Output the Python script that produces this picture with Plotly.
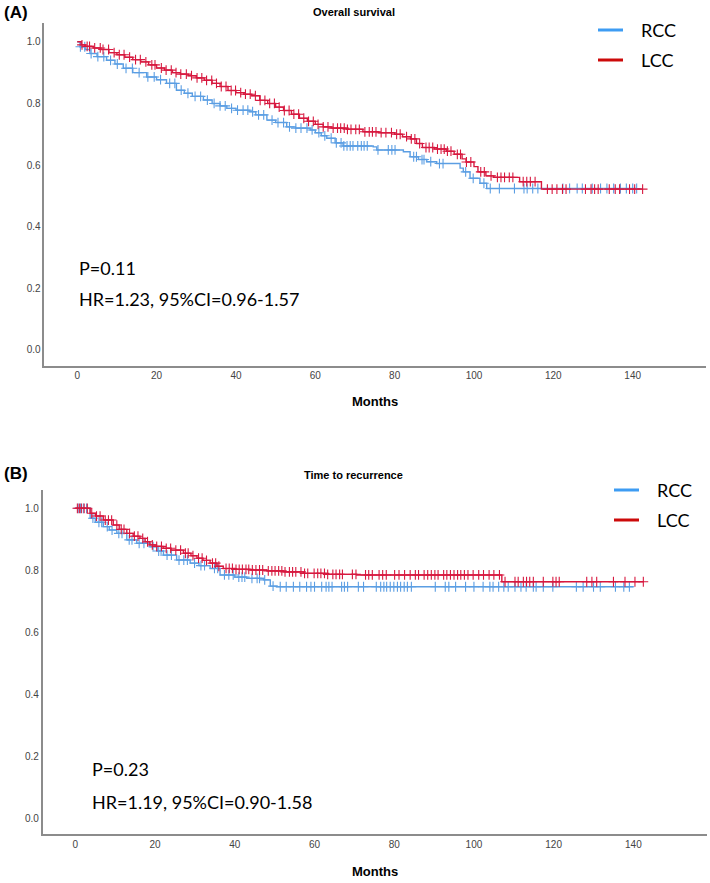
import bisect
import plotly.graph_objects as go

W, H = 710, 883

# ---------------- DATA ----------------
# Panel A: Overall survival (step function points)
os_lcc_t = [0, 1, 2, 4, 6, 8, 10, 12, 14, 16, 18, 20, 22, 24, 26, 28, 30, 32, 34, 36, 38, 40, 42, 44,
            46, 48, 50, 52, 54, 56, 58, 60, 62, 64, 68, 72, 76, 80, 82, 84, 85.5, 87, 90, 93, 95, 97,
            98, 100, 101, 103, 105, 111.5, 117, 142.5]
os_lcc_s = [1.0, 0.99, 0.985, 0.98, 0.975, 0.965, 0.958, 0.95, 0.942, 0.935, 0.925, 0.915, 0.908, 0.9,
            0.895, 0.89, 0.883, 0.875, 0.865, 0.855, 0.842, 0.835, 0.83, 0.825, 0.81, 0.8, 0.788, 0.777,
            0.765, 0.752, 0.742, 0.732, 0.724, 0.72, 0.716, 0.708, 0.705, 0.7, 0.692, 0.685, 0.67, 0.657,
            0.652, 0.645, 0.635, 0.62, 0.61, 0.595, 0.578, 0.565, 0.56, 0.546, 0.522, 0.522]
os_rcc_t = [0, 0.7, 2, 3.2, 5, 7.4, 9.5, 11.6, 14, 17.5, 20, 22.5, 25, 27, 29, 31.8, 34, 36, 37.7, 40,
            43.5, 45, 47.8, 50, 52.8, 55, 58.7, 60, 61.5, 62.9, 65, 67, 74.6, 75.5, 82.2, 83.9, 86, 88.1,
            90.6, 96.5, 97.3, 99, 101.5, 103.2, 141]
os_rcc_s = [1.0, 0.984, 0.975, 0.962, 0.952, 0.94, 0.928, 0.914, 0.9, 0.886, 0.877, 0.865, 0.843, 0.833,
            0.823, 0.811, 0.8, 0.792, 0.784, 0.778, 0.773, 0.763, 0.746, 0.738, 0.724, 0.72, 0.714, 0.705,
            0.695, 0.687, 0.672, 0.662, 0.659, 0.649, 0.643, 0.627, 0.618, 0.611, 0.605, 0.59, 0.578,
            0.557, 0.541, 0.524, 0.524]
os_lcc_cens = [1.2, 2.5, 3.1, 4.4, 5.8, 6.5, 7.9, 9.3, 10.6, 11.8, 13.2, 14.7, 15.9, 17.3, 18.8, 19.6,
               21.2, 22.4, 23.7, 24.9, 26.1, 27.5, 28.8, 30.2, 31.4, 32.6, 33.9, 35.1, 36.3, 37.5, 38.8,
               39.9, 41.2, 42.4, 43.6, 44.9, 46.1, 47.3, 48.5, 49.7, 50.9, 52.2, 53.4, 54.6, 55.8, 57.1,
               58.3, 59.5, 60.7, 62.0, 63.2, 64.5, 65.6, 66.4, 67.3, 68.1, 69.0, 70.2, 71.1, 72.5, 73.6,
               74.4, 75.3, 76.6, 77.8, 79.2, 80.5, 81.4, 83.0, 84.2, 85.1, 86.3, 87.9, 88.7, 89.6, 90.8,
               91.7, 92.5, 93.3, 94.2, 95.8, 96.6, 98.1, 99.2, 101.7, 102.6, 104.3, 105.9, 106.8, 107.7,
               108.9, 109.8, 112.4, 113.3, 114.2, 115.4, 118.5, 119.7, 120.9, 122.3, 123.2, 128.1, 129.5,
               130.4, 131.3, 134.1, 135.6, 136.7, 139.2, 140.5, 142.5]
os_rcc_cens = [0.8, 1.9, 3.5, 5.2, 6.7, 8.4, 10.1, 12.3, 13.9, 15.6, 17.8, 19.4, 21.0, 23.3, 24.6, 26.2,
               27.9, 29.7, 31.1, 32.8, 34.5, 36.0, 37.3, 38.9, 40.4, 41.8, 43.0, 44.2, 45.7, 47.0, 49.1,
               50.6, 52.0, 53.5, 55.1, 56.4, 57.9, 59.2, 60.9, 62.4, 64.0, 65.3, 66.5, 67.2, 68.0, 68.8,
               69.5, 70.7, 71.6, 72.3, 73.1, 75.8, 78.4, 79.3, 80.1, 84.8, 85.5, 86.9, 87.4, 89.1, 91.3,
               92.2, 97.9, 99.8, 102.5, 104.1, 106.4, 110.2, 112.6, 113.4, 114.8, 116.1, 122.4, 124.1,
               126.0, 127.3, 129.8, 131.9, 133.5, 135.2, 136.9, 138.4, 140.0, 141.0]

# Panel B: Time to recurrence
ttr_lcc_t = [0, 2.4, 3.7, 5, 7, 9.5, 11, 12.9, 14.5, 16.2, 17.5, 18.7, 20, 22, 24, 27.1, 29, 30.5, 32,
             33.8, 35.5, 37.1, 40, 43.8, 48, 52.2, 57.2, 63, 70.6, 107, 142.5]
ttr_lcc_s = [1.0, 1.0, 0.984, 0.975, 0.962, 0.946, 0.932, 0.919, 0.91, 0.903, 0.892, 0.882, 0.877, 0.871,
             0.865, 0.855, 0.847, 0.839, 0.832, 0.823, 0.813, 0.806, 0.803, 0.801, 0.798, 0.795, 0.79,
             0.787, 0.785, 0.763, 0.763]
ttr_rcc_t = [0, 2.5, 3.7, 5, 7, 8.5, 10.4, 12.9, 15.4, 18.7, 20.5, 22.1, 25.4, 28.8, 31, 33.8, 36.3, 40,
             43, 47.2, 48.9, 50.5, 140]
ttr_rcc_s = [1.0, 1.0, 0.968, 0.955, 0.941, 0.93, 0.919, 0.898, 0.887, 0.876, 0.862, 0.849, 0.833, 0.823,
             0.815, 0.806, 0.785, 0.778, 0.774, 0.769, 0.749, 0.747, 0.747]
ttr_lcc_cens = [0.5, 1.0, 1.5, 2.2, 3.0, 4.1, 5.3, 6.2, 7.5, 8.3, 9.1, 10.4, 11.5, 12.2, 13.6, 14.8, 15.7,
                16.9, 18.1, 19.3, 20.4, 21.6, 22.8, 23.9, 25.2, 26.4, 27.6, 28.3, 29.5, 30.9, 31.8, 32.9,
                34.4, 35.2, 36.0, 37.8, 38.6, 39.4, 40.3, 41.1, 41.9, 42.8, 43.5, 44.4, 45.3, 46.2, 47.0,
                48.4, 49.3, 50.1, 51.0, 51.8, 52.6, 53.7, 54.5, 55.3, 56.6, 57.5, 58.3, 59.9, 60.8, 61.6,
                62.5, 63.3, 64.6, 65.4, 66.3, 67.0, 69.5, 70.4, 72.8, 73.6, 74.5, 76.2, 77.1, 78.0, 80.1,
                81.2, 82.6, 84.0, 85.3, 86.1, 87.5, 88.4, 89.3, 90.2, 91.0, 92.4, 93.2, 94.1, 95.0, 95.9,
                96.7, 97.6, 98.5, 99.8, 101.2, 102.4, 103.8, 105.0, 106.4, 107.8, 110.3, 111.1, 112.4,
                113.2, 114.0, 114.9, 117.4, 119.8, 120.6, 121.4, 128.3, 129.6, 130.8, 135.0, 137.9, 140.4,
                142.5]
ttr_rcc_cens = [0.7, 1.3, 2.0, 2.8, 4.4, 5.9, 6.6, 8.0, 9.2, 10.9, 11.7, 13.5, 14.2, 16.0, 17.2, 19.5,
                20.9, 21.5, 23.0, 24.1, 26.0, 27.2, 28.1, 29.9, 31.5, 32.4, 34.9, 35.7, 37.4, 38.5, 39.6,
                41.0, 41.8, 42.5, 44.3, 45.6, 46.2, 47.5, 49.6, 51.4, 52.9, 54.7, 56.3, 58.0, 59.1, 60.0,
                61.8, 62.9, 63.6, 64.4, 66.8, 67.5, 68.3, 71.0, 72.3, 75.5, 76.6, 77.4, 78.1, 79.0, 79.9,
                80.8, 81.6, 82.5, 83.3, 84.3, 90.3, 92.8, 93.7, 95.4, 97.9, 100.0, 102.3, 104.0, 104.8,
                106.2, 107.5, 108.6, 110.3, 111.8, 113.1, 114.9, 115.6, 117.4, 119.8, 125.7, 127.4, 130.0,
                131.7, 135.5, 137.6, 139.0]

x_ticks = [0, 20, 40, 60, 80, 100, 120, 140]
y_ticks = [0.0, 0.2, 0.4, 0.6, 0.8, 1.0]
groups = ["RCC", "LCC"]
panel_titles = ["Overall survival", "Time to recurrence"]
panel_tags = ["(A)", "(B)"]
stats_p = ["P=0.11", "P=0.23"]
stats_hr = ["HR=1.23, 95%CI=0.96-1.57", "HR=1.19, 95%CI=0.90-1.58"]

# ---------------- STYLE ----------------
BLUE = "#5b9ee3"
RED = "#d7183f"
LEG_BLUE = "#3d9cf3"
LEG_RED = "#cc0a0a"


def px(x):
    return x / W


def py(y):
    return 1 - y / H


def surv_at(times, surv, t):
    i = bisect.bisect_right(times, t) - 1
    return surv[max(i, 0)]


fig = go.Figure()

panels = [
    dict(xa="x", ya="y", data=[(os_rcc_t, os_rcc_s, os_rcc_cens, BLUE), (os_lcc_t, os_lcc_s, os_lcc_cens, RED)]),
    dict(xa="x2", ya="y2", data=[(ttr_rcc_t, ttr_rcc_s, ttr_rcc_cens, BLUE), (ttr_lcc_t, ttr_lcc_s, ttr_lcc_cens, RED)]),
]

for p in panels:
    for (t, s, cens, col), name in zip(p["data"], groups):
        fig.add_trace(go.Scatter(x=t, y=s, mode="lines", line=dict(color=col, width=1.4, shape="hv"),
                                 xaxis=p["xa"], yaxis=p["ya"], showlegend=False, name=name))
        cy = [surv_at(t, s, c) for c in cens]
        fig.add_trace(go.Scatter(x=cens, y=cy, mode="markers",
                                 marker=dict(symbol="cross-thin", size=7, color=col, line=dict(width=1.1, color=col)),
                                 xaxis=p["xa"], yaxis=p["ya"], showlegend=False, name=name))

axis_common = dict(showline=True, linecolor="#8c8c8c", linewidth=1.5, showgrid=False, zeroline=False,
                   ticks="", tickfont=dict(family="Liberation Sans", size=10, color="#444"))

fig.update_layout(
    width=W, height=H, margin=dict(l=0, r=0, t=0, b=0),
    paper_bgcolor="white", plot_bgcolor="white", showlegend=False,
    xaxis=dict(domain=[px(44.3), px(705.7)], range=[-8.3, 158.4], tickvals=x_ticks, anchor="y", **axis_common),
    yaxis=dict(domain=[py(365.7), py(23)], range=[-0.051, 1.061], tickvals=y_ticks, tickformat=".1f",
               anchor="x", **axis_common),
    xaxis2=dict(domain=[px(42.7), px(706.7)], range=[-8.2, 158.4], tickvals=x_ticks, anchor="y2", **axis_common),
    yaxis2=dict(domain=[py(834), py(490)], range=[-0.0506, 1.059], tickvals=y_ticks, tickformat=".1f",
                anchor="x2", **axis_common),
)

ann = []
shapes = []
layout_pos = [
    dict(tag_y=12, title_x=354, title_y=12, months_x=375, months_y=402, p_x=77, p_y=268, hr_y=299,
         leg_x0=598, leg_x1=623, leg_tx=639, leg_y=[30, 60]),
    dict(tag_y=473, title_x=353, title_y=475, months_x=375, months_y=871, p_x=90, p_y=769, hr_y=802,
         leg_x0=614, leg_x1=639, leg_tx=655, leg_y=[490, 520]),
]
for i, L in enumerate(layout_pos):
    ann.append(dict(text="<b>%s</b>" % panel_tags[i], x=px(2), y=py(L["tag_y"]), xref="paper", yref="paper",
                    xanchor="left", yanchor="middle", showarrow=False,
                    font=dict(family="Liberation Sans", size=17, color="black")))
    ann.append(dict(text="<b>%s</b>" % panel_titles[i], x=px(L["title_x"]), y=py(L["title_y"]),
                    xref="paper", yref="paper", xanchor="center", yanchor="middle", showarrow=False,
                    font=dict(family="Liberation Sans", size=11, color="black")))
    ann.append(dict(text="<b>Months</b>", x=px(L["months_x"]), y=py(L["months_y"]), xref="paper", yref="paper",
                    xanchor="center", yanchor="middle", showarrow=False,
                    font=dict(family="Liberation Sans", size=13, color="black")))
    ann.append(dict(text=stats_p[i], x=px(L["p_x"]), y=py(L["p_y"]), xref="paper", yref="paper",
                    xanchor="left", yanchor="middle", showarrow=False,
                    font=dict(family="Lato", size=18, color="black")))
    ann.append(dict(text=stats_hr[i], x=px(L["p_x"]), y=py(L["hr_y"]), xref="paper", yref="paper",
                    xanchor="left", yanchor="middle", showarrow=False,
                    font=dict(family="Lato", size=18, color="black")))
    for g, ly, lc in zip(groups, L["leg_y"], [LEG_BLUE, LEG_RED]):
        shapes.append(dict(type="line", xref="paper", yref="paper", x0=px(L["leg_x0"]), x1=px(L["leg_x1"]),
                           y0=py(ly), y1=py(ly), line=dict(color=lc, width=3)))
        ann.append(dict(text=g, x=px(L["leg_tx"]), y=py(ly), xref="paper", yref="paper",
                        xanchor="left", yanchor="middle", showarrow=False,
                        font=dict(family="Lato", size=18, color="black")))

fig.update_layout(annotations=ann, shapes=shapes)
fig.write_html("out.html", config={"displayModeBar": False},
               post_script="document.body.style.margin='0';document.body.style.overflow='hidden';")
